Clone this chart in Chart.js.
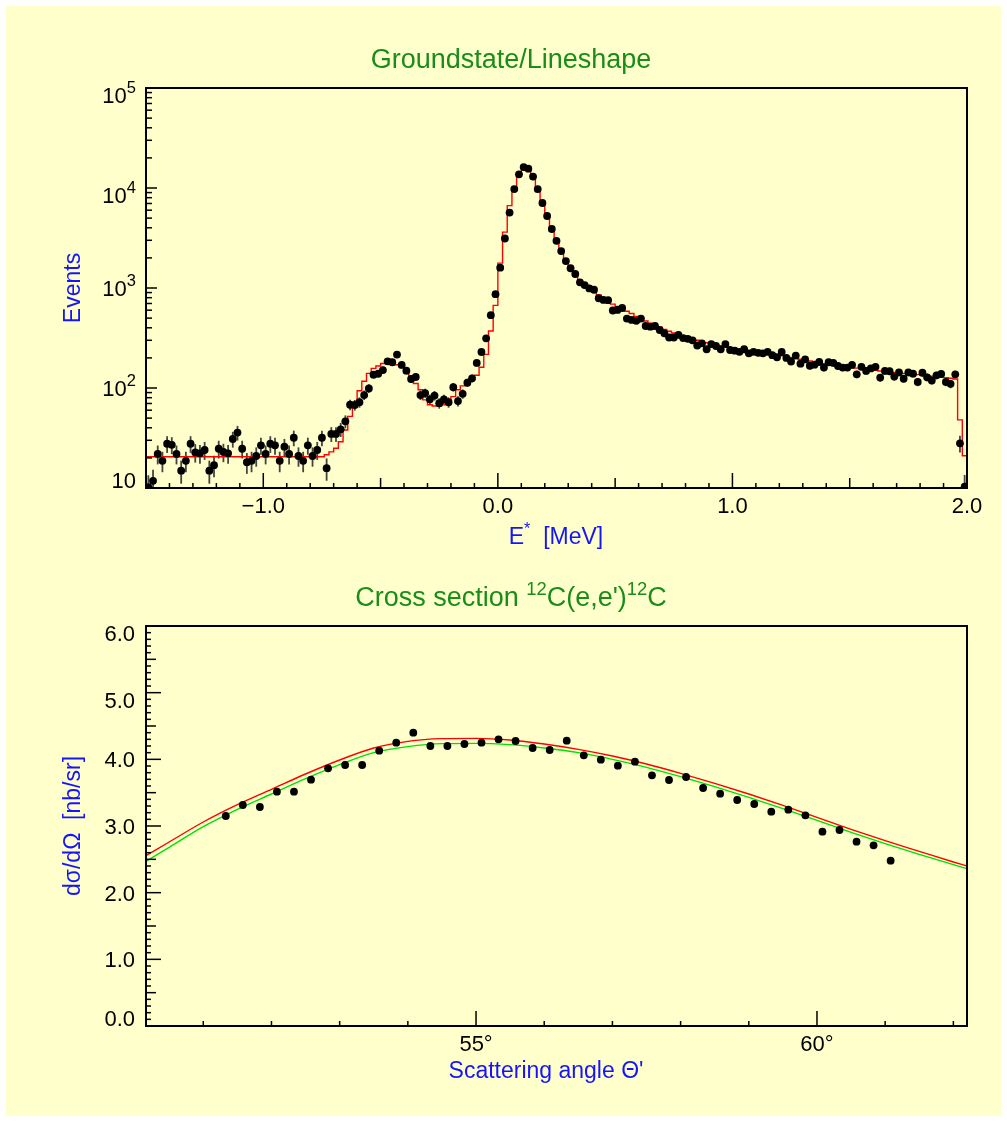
<!DOCTYPE html>
<html><head><meta charset="utf-8">
<script src="https://cdn.jsdelivr.net/npm/chart.js@4.4.0/dist/chart.umd.min.js"></script>
<style>
html,body{margin:0;padding:0;background:#ffffff;width:1007px;height:1122px;overflow:hidden;}
#panel{position:absolute;left:6px;top:6px;width:995px;height:1110px;background:#ffffcc;}
#c1{position:absolute;left:0;top:0;}
#c2{position:absolute;left:0;top:560px;}
</style></head><body>
<div id="panel"></div>
<canvas id="c1" width="1007" height="560"></canvas>
<canvas id="c2" width="1007" height="562"></canvas>
<script>
// ---------------- DATA: top panel (lineshape histogram) ----------------
const energyMin = -1.5;
const energyMax = 2.0;
const binWidth = 0.02;
const spectrumCounts = [
  10.2, 11.8, 21.9, 18.7, 27.7, 27, 21.9, 14.9, 18.7, 27.7,
  22.7, 22.2, 24, 14.9, 16.9, 24.7, 22.9, 22.2, 30.9, 35.8,
  24.7, 18.1, 18.7, 20.9, 26.7, 21.9, 27.7, 26.7, 18.7, 25.9,
  21.9, 31.8, 20.9, 18.7, 26.7, 20.9, 24, 31.8, 15.8, 34.7,
  34.7, 38.6, 46.4, 68, 67.6, 72, 85, 99, 136, 139,
  151, 185, 181, 216, 170, 149, 123, 129, 85, 89,
  77, 84, 70.5, 77, 72, 102, 74, 87.5, 113, 125,
  178, 229, 314, 535, 867, 1596, 3126, 5675, 9750, 13700,
  16200, 15600, 13000, 9750, 7080, 5250, 3890, 2960, 2340, 1860,
  1575, 1380, 1140, 1070, 990, 960, 790, 760, 755, 596,
  603, 631, 495, 479, 470, 495, 417, 410, 417, 380,
  352, 320, 320, 340, 316, 310, 300, 266, 280, 244,
  275, 263, 244, 275, 240, 236, 230, 244, 222, 230,
  225, 222, 230, 213, 203, 229, 200, 184, 211, 175,
  193, 167, 171, 182, 160, 181, 178, 166, 160, 160,
  170, 137, 163, 148, 157, 163, 127, 148, 147, 130,
  143, 124, 143, 139, 115, 142, 128, 119, 134, 138,
  115, 110, 137, 28, 10.3
];
const spectrumFit = [
  20.5, 20.5, 20.5, 20.5, 20.5, 20.5, 20.5, 20.5, 20.5, 20.5,
  20.5, 20.5, 20.5, 20.5, 20.5, 20.5, 20.5, 20.5, 20.5, 20.5,
  20.5, 20.5, 20.5, 20.5, 20.5, 20.5, 20.5, 20.5, 20.5, 20.5,
  20.5, 20.5, 20.5, 20.5, 20.5, 20.5, 20.5, 20.5, 21.5, 23,
  25, 29, 38, 52, 66, 94, 117, 140, 157, 166,
  176, 179, 179, 171, 161, 142, 130, 111, 96, 76,
  68, 66, 66, 68, 74, 82, 96, 105, 115, 123,
  134, 161, 217, 372, 671, 1775, 3620, 6660, 10200, 13700,
  15100, 15000, 12300, 9200, 6800, 5000, 3700, 2860, 2270, 1860,
  1600, 1370, 1200, 1090, 994, 933, 851, 776, 729, 690,
  655, 620, 585, 555, 520, 492, 468, 445, 425, 405,
  385, 370, 355, 342, 330, 318, 308, 300, 292, 283,
  274, 268, 262, 257, 250, 245, 240, 236, 233, 229,
  226, 224, 220, 216, 213, 210, 206, 202, 198, 194,
  190, 186, 182, 178, 175, 172, 170, 167, 165, 162,
  160, 158, 156, 154, 152, 150, 148, 147, 145, 143,
  141, 140, 139, 137, 136, 134, 133, 131, 130, 128,
  127, 125, 123, 48, 21
];
const topXTickValues = [-1, 0, 1, 2];
const topXTickLabels = ["\u22121.0", "0.0", "1.0", "2.0"];
const topYTickValues = [10, 100, 1000, 10000, 100000];
const topYTickBase = ["10", "10", "10", "10", "10"];
const topYTickExp = ["", "2", "3", "4", "5"];
const topYMin = 10, topYMax = 100000;

// ---------------- DATA: bottom panel (cross section) ----------------
const angles = [
  51.33, 51.58, 51.83, 52.08, 52.33, 52.58, 52.83, 53.08, 53.33, 53.58,
  53.83, 54.08, 54.33, 54.58, 54.83, 55.08, 55.33, 55.58, 55.83, 56.08,
  56.33, 56.58, 56.83, 57.08, 57.33, 57.58, 57.83, 58.08, 58.33, 58.58,
  58.83, 59.08, 59.33, 59.58, 59.83, 60.08, 60.33, 60.58, 60.83, 61.08
];
const crossSection = [
  3.15, 3.315, 3.285, 3.515, 3.515, 3.695, 3.865, 3.915, 3.915, 4.13,
  4.25, 4.40, 4.20, 4.20, 4.23, 4.25, 4.30, 4.275, 4.17, 4.14,
  4.28, 4.06, 3.995, 3.905, 3.965, 3.76, 3.69, 3.735, 3.57, 3.485,
  3.39, 3.33, 3.215, 3.245, 3.16, 2.915, 2.94, 2.765, 2.71, 2.48
];
const curveAngles = [
  50.16, 50.5, 51.0, 51.5, 52.0, 52.5, 53.0, 53.5, 54.0, 54.5, 55.0, 55.5, 56.0,
  56.5, 57.0, 57.5, 58.0, 58.5, 59.0, 59.5, 60.0, 60.5, 61.0, 61.5, 62.0, 62.2
];
const curveRed = [
  2.555, 2.76, 3.06, 3.32, 3.55, 3.78, 3.99, 4.17, 4.27, 4.31, 4.315, 4.29, 4.23,
  4.15, 4.05, 3.93, 3.79, 3.64, 3.48, 3.31, 3.13, 2.95, 2.78, 2.62, 2.46, 2.40
];
const curveGreen = [
  2.47, 2.68, 2.99, 3.25, 3.48, 3.71, 3.92, 4.10, 4.19, 4.235, 4.24, 4.22, 4.17,
  4.10, 4.00, 3.88, 3.74, 3.59, 3.43, 3.26, 3.085, 2.905, 2.735, 2.575, 2.42, 2.36
];
const bottomXTickValues = [55, 60];
const bottomXTickLabels = ["55\u00B0", "60\u00B0"];
const bottomYTickValues = [0, 1, 2, 3, 4, 5, 6];
const bottomYTickLabels = ["0.0", "1.0", "2.0", "3.0", "4.0", "5.0", "6.0"];
const angleMin = 50.16, angleMax = 62.2;

// ---------------- styling helpers ----------------
const FONT = '"Liberation Sans", Arial, Helvetica, sans-serif';
const TITLE_GREEN = '#1a8c1a';
const AXIS_BLUE = '#1414ff';

function richText(ctx, parts, x, y, align, size, color, supScale, supRaise) {
  supScale = supScale || 0.7; supRaise = supRaise || 0.42;
  const widths = parts.map(p => {
    ctx.font = (p[1] ? size * supScale : size) + 'px ' + FONT;
    return ctx.measureText(p[0]).width;
  });
  const total = widths.reduce((a, b) => a + b, 0);
  let cx = align === 'center' ? x - total / 2 : (align === 'right' ? x - total : x);
  ctx.fillStyle = color; ctx.textAlign = 'left'; ctx.textBaseline = 'alphabetic';
  parts.forEach((p, i) => {
    ctx.font = (p[1] ? size * supScale : size) + 'px ' + FONT;
    ctx.fillText(p[0], cx, p[1] ? y - size * supRaise : y);
    cx += widths[i];
  });
}
function tickLine(ctx, x1, y1, x2, y2) {
  ctx.beginPath(); ctx.moveTo(x1, y1); ctx.lineTo(x2, y2); ctx.stroke();
}
function frame(ctx, a) {
  ctx.save(); ctx.strokeStyle = '#000'; ctx.lineWidth = 2;
  ctx.strokeRect(a.left, a.top, a.right - a.left, a.bottom - a.top);
  ctx.restore();
}
// label vertical placement (ROOT style: top labels pushed inside frame)
function labelBaselineOffset(i, n) {
  if (i === 0) return 0;
  if (i >= n - 2) return 15;
  return 8;
}

// ---------------- top chart ----------------
const binCenters = spectrumCounts.map((_, i) => energyMin + binWidth * (i + 0.5));
const pointData = spectrumCounts.map((v, i) => ({ x: binCenters[i], y: v }));
const fitData = spectrumFit.map((v, i) => ({ x: energyMin + binWidth * i, y: v }));
fitData.push({ x: energyMax, y: spectrumFit[spectrumFit.length - 1] });

const topPlugin = {
  id: 'rootTop',
  beforeDatasetsDraw(chart) {
    const ctx = chart.ctx, a = chart.chartArea, xs = chart.scales.x, ys = chart.scales.y;
    ctx.save();
    ctx.beginPath(); ctx.rect(a.left, a.top, a.right - a.left, a.bottom - a.top); ctx.clip();
    ctx.strokeStyle = '#444444'; ctx.lineWidth = 1.8;
    spectrumCounts.forEach((v, i) => {
      const e = Math.sqrt(v);
      const px = xs.getPixelForValue(binCenters[i]);
      const lo = ys.getPixelForValue(Math.max(v - e, 1));
      const hi = ys.getPixelForValue(v + e);
      tickLine(ctx, px, lo, px, hi);
    });
    ctx.restore();
  },
  afterDraw(chart) {
    const ctx = chart.ctx, a = chart.chartArea, xs = chart.scales.x, ys = chart.scales.y;
    ctx.save();
    frame(ctx, a);
    ctx.strokeStyle = '#000'; ctx.lineWidth = 1.5;
    // x ticks (inward)
    for (let k = 0; k <= 35; k++) {
      const v = energyMin + k * 0.1;
      const px = xs.getPixelForValue(v);
      const len = (k % 10 === 5) ? 15 : (k % 5 === 0 ? 10 : 5);
      tickLine(ctx, px, a.bottom, px, a.bottom - len);
    }
    // y ticks (log)
    topYTickValues.forEach((d, i) => {
      const py = ys.getPixelForValue(d);
      tickLine(ctx, a.left, py, a.left + 11, py);
      if (i < topYTickValues.length - 1) {
        for (let m = 2; m <= 9; m++) {
          const pm = ys.getPixelForValue(m * d);
          tickLine(ctx, a.left, pm, a.left + 6, pm);
        }
      }
    });
    // labels
    topXTickValues.forEach((v, i) => {
      richText(ctx, [[topXTickLabels[i], 0]], xs.getPixelForValue(v), a.bottom + 25, 'center', 22, '#000');
    });
    topYTickValues.forEach((v, i) => {
      const py = ys.getPixelForValue(v) + labelBaselineOffset(i, topYTickValues.length);
      const parts = [[topYTickBase[i], 0]];
      if (topYTickExp[i]) parts.push([topYTickExp[i], 1]);
      richText(ctx, parts, a.left - 10, py, 'right', 22, '#000', 0.75, 0.45);
    });
    // title
    richText(ctx, [["Groundstate/Lineshape", 0]], 511, 68, 'center', 27, TITLE_GREEN);
    // x title
    richText(ctx, [["E", 0], ["*", 1], ["  [MeV]", 0]], 556, 544, 'center', 23, AXIS_BLUE, 0.7, 0.45);
    // y title
    ctx.save();
    ctx.translate(80, (a.top + a.bottom) / 2);
    ctx.rotate(-Math.PI / 2);
    richText(ctx, [["Events", 0]], 0, 0, 'center', 23, AXIS_BLUE);
    ctx.restore();
    ctx.restore();
  }
};

new Chart(document.getElementById('c1'), {
  type: 'scatter',
  data: {
    datasets: [
      { type: 'scatter', data: pointData, pointRadius: 3.9, pointBackgroundColor: '#000',
        pointBorderWidth: 0, borderColor: '#000', order: 0, clip: 0 },
      { type: 'line', data: fitData, stepped: 'before', borderColor: '#ff0000', borderWidth: 1.4,
        pointRadius: 0, fill: false, order: 1, clip: 0 }
    ]
  },
  options: {
    responsive: false, animation: false, events: [],
    layout: { padding: { left: 146, right: 40, top: 88, bottom: 72 } },
    plugins: { legend: { display: false }, tooltip: { enabled: false }, title: { display: false } },
    scales: {
      x: { type: 'linear', min: energyMin, max: energyMax, display: false },
      y: { type: 'logarithmic', min: topYMin, max: topYMax, display: false }
    }
  },
  plugins: [topPlugin]
});

// ---------------- bottom chart ----------------
const xsData = angles.map((t, i) => ({ x: t, y: crossSection[i] }));
const redData = curveAngles.map((t, i) => ({ x: t, y: curveRed[i] }));
const greenData = curveAngles.map((t, i) => ({ x: t, y: curveGreen[i] }));

const bottomPlugin = {
  id: 'rootBottom',
  afterDraw(chart) {
    const ctx = chart.ctx, a = chart.chartArea, xs = chart.scales.x, ys = chart.scales.y;
    ctx.save();
    frame(ctx, a);
    ctx.strokeStyle = '#000'; ctx.lineWidth = 1.5;
    for (let d = Math.ceil(angleMin); d <= Math.floor(angleMax); d++) {
      const px = xs.getPixelForValue(d);
      const len = (d % 5 === 0) ? 15 : 5;
      tickLine(ctx, px, a.bottom, px, a.bottom - len);
    }
    for (let k = 0; k <= 60; k++) {
      const py = ys.getPixelForValue(k / 10);
      const len = (k % 10 === 0) ? 15 : (k % 5 === 0 ? 10 : 5);
      tickLine(ctx, a.left, py, a.left + len, py);
    }
    bottomXTickValues.forEach((v, i) => {
      richText(ctx, [[bottomXTickLabels[i], 0]], xs.getPixelForValue(v), a.bottom + 25, 'center', 22, '#000');
    });
    bottomYTickValues.forEach((v, i) => {
      const py = ys.getPixelForValue(v) + labelBaselineOffset(i, bottomYTickValues.length);
      richText(ctx, [[bottomYTickLabels[i], 0]], a.left - 11, py, 'right', 22, '#000');
    });
    richText(ctx, [["Cross section ", 0], ["12", 1], ["C(e,e')", 0], ["12", 1], ["C", 0]],
      511, 46, 'center', 27, TITLE_GREEN, 0.68, 0.4);
    richText(ctx, [["Scattering angle \u0398'", 0]], 546, 518, 'center', 23, AXIS_BLUE);
    ctx.save();
    ctx.translate(80, (a.top + a.bottom) / 2);
    ctx.rotate(-Math.PI / 2);
    richText(ctx, [["d\u03C3/d\u03A9  [nb/sr]", 0]], 0, 0, 'center', 23, AXIS_BLUE);
    ctx.restore();
    ctx.restore();
  }
};

new Chart(document.getElementById('c2'), {
  type: 'scatter',
  data: {
    datasets: [
      { type: 'scatter', data: xsData, pointRadius: 3.9, pointBackgroundColor: '#000',
        pointBorderWidth: 0, order: 0 },
      { type: 'line', data: redData, borderColor: '#ff0000', borderWidth: 1.4, pointRadius: 0,
        cubicInterpolationMode: 'monotone', fill: false, order: 1 },
      { type: 'line', data: greenData, borderColor: '#00e000', borderWidth: 1.4, pointRadius: 0,
        cubicInterpolationMode: 'monotone', fill: false, order: 2 }
    ]
  },
  options: {
    responsive: false, animation: false, events: [],
    layout: { padding: { left: 146, right: 40, top: 66, bottom: 96 } },
    plugins: { legend: { display: false }, tooltip: { enabled: false }, title: { display: false } },
    scales: {
      x: { type: 'linear', min: angleMin, max: angleMax, display: false },
      y: { type: 'linear', min: 0, max: 6, display: false }
    }
  },
  plugins: [bottomPlugin]
});
</script>
</body></html>
